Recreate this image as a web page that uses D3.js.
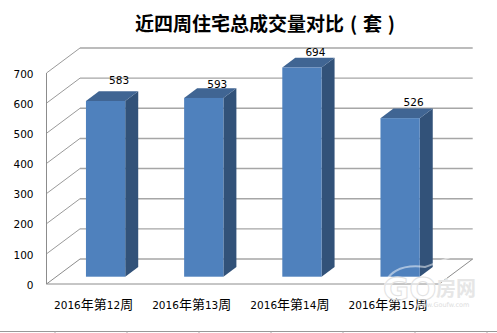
<!DOCTYPE html>
<html><head><meta charset="utf-8">
<style>html,body{margin:0;padding:0;background:#fff}svg{display:block}text{fill:#000}</style>
<script src="https://cdn.jsdelivr.net/npm/d3@7/dist/d3.min.js"></script>
</head><body><svg id="c" width="497" height="333"></svg>
<script>
const categories=["2016年第12周","2016年第13周","2016年第14周","2016年第15周"];
const values=[583,593,694,526];
const ticks=[0,100,200,300,400,500,600,700];
const title="近四周住宅总成交量对比 ( 套 )";
const labelOffset=[-11.5,-4.5,-6,-7];
const rulerTicks=[55,127,199,271,343,415,487];

const svg=d3.select("#c");
const W={fx:46.5,bx:80,rx:472.7,fy0:284,by0:259,fy700:73};
const y=d3.scaleLinear().domain([0,700]).range([W.fy0,W.fy700]);
const depthY=W.fy0-W.by0, depthX=W.bx-W.fx;
const xs=d3.scaleBand().domain(categories).range([56.5,449.2]).paddingInner(0.6).paddingOuter(0.3);
const grey="#a6a6a6";
ticks.forEach(t=>{
  const yy=y(t);
  if(t>0) svg.append("line").attr("x1",W.fx).attr("y1",yy).attr("x2",W.bx).attr("y2",yy-depthY).attr("stroke","#9a9a9a");
  svg.append("line").attr("x1",W.bx).attr("y1",yy-depthY).attr("x2",W.rx).attr("y2",yy-depthY).attr("stroke",grey).attr("stroke-width",1.4);
  svg.append("text").attr("x",33.5).attr("y",yy+1).attr("dy","0.35em").attr("text-anchor","end")
    .attr("font-family","DejaVu Sans").attr("font-size",10.5).text(t);
});
svg.append("path").attr("d",`M${W.fx},${y(700)}V${W.fy0}H${W.rx-depthX}L${W.rx},${W.by0}M${W.fx},${W.fy0}L${W.bx},${W.by0}`)
  .attr("fill","none").attr("stroke","#8c8c8c").attr("stroke-width",1);
const base=276.7, dx=13, dy=9.7, scale=(W.fy0-W.fy700)/700;
categories.forEach((c,i)=>{
  const x0=xs(c), w=xs.bandwidth(), top=base-values[i]*scale;
  svg.append("path").attr("d",`M${x0+w},${top}l${dx},${-dy}V${base-dy}l${-dx},${dy}Z`).attr("fill","#325279");
  svg.append("path").attr("d",`M${x0},${top}l${dx},${-dy}h${w}l${-dx},${dy}Z`).attr("fill","#406593");
  svg.append("rect").attr("x",x0).attr("y",top).attr("width",w).attr("height",base-top).attr("fill","#4f81bd");
  svg.append("text").attr("x",x0+w/2+13.5).attr("y",top-dy+labelOffset[i]+1).attr("dy","0.35em").attr("text-anchor","middle")
    .attr("font-family","DejaVu Sans").attr("font-size",10.5).text(values[i]);
  const parts=c.match(/\d+|[^\d]+/g);
  const t=svg.append("text").attr("x",x0+w/2-12).attr("y",305).attr("dy","0.35em").attr("text-anchor","middle").attr("font-size",10.5).attr("font-family","DejaVu Sans");
  parts.forEach(p=>{const s=t.append("tspan").text(p); if(/\D/.test(p)) s.attr("font-family","Noto Sans CJK SC").attr("font-size",13);});
});
svg.append("text").attr("x",265).attr("y",24.5).attr("dy","0.35em").attr("text-anchor","middle")
  .attr("font-family","Noto Sans CJK SC").attr("font-weight","700").attr("font-size",19).attr("word-spacing",1.5).text(title);
svg.append("line").attr("x1",0).attr("x2",497).attr("y1",331.5).attr("y2",331.5).attr("stroke","#999");
rulerTicks.forEach(x=>svg.append("line").attr("x1",x).attr("x2",x).attr("y1",331.5).attr("y2",333).attr("stroke","#aaa"));
// watermark
const wm=svg.append("g");
wm.append("path").attr("d","M384,292C384,272 402,264 425,267C440,262 456,254 468,250C474,256 477,262 478,272")
  .attr("fill","none").attr("stroke","#fff").attr("stroke-opacity",.5).attr("stroke-width",2);
wm.append("text").attr("x",383).attr("y",300).attr("font-family","DejaVu Sans").attr("font-weight","700").attr("font-size",32)
  .style("fill","#fff").style("fill-opacity",.55).attr("stroke","#e2e2e2").attr("stroke-width",1).text("GO");
wm.append("text").attr("x",436).attr("y",296).attr("font-family","Noto Sans CJK SC").attr("font-weight","700").attr("font-size",20)
  .style("fill","#e6e6e6").text("房网");
wm.append("text").attr("x",416).attr("y",307).attr("font-family","DejaVu Sans").attr("font-size",6.5).style("fill","#dedede").text("www.Goufw.com");
</script></body></html>
